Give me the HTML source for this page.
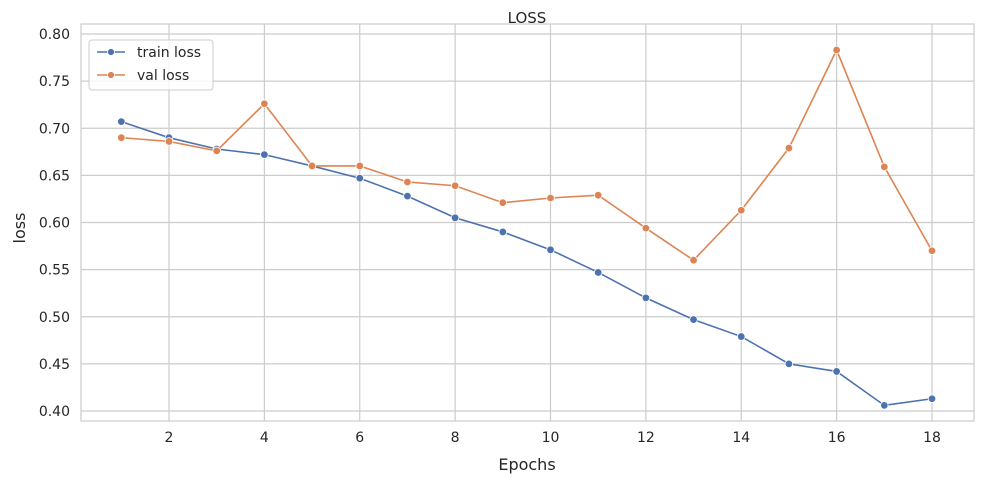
<!DOCTYPE html>
<html><head><meta charset="utf-8"><style>
body{margin:0;background:#fff;font-family:"Liberation Sans","DejaVu Sans",sans-serif;}
svg text{font-family:"DejaVu Sans","Liberation Sans",sans-serif;fill:#262626;}
</style></head><body>
<svg id="chart" width="984" height="484" xmlns="http://www.w3.org/2000/svg">
<rect x="81" y="24" width="893" height="397" fill="#fff" stroke="#ccc" stroke-width="1.2"/>
<g id="grid"></g>
<g id="lines"></g>
<text x="527" y="23" text-anchor="middle" font-size="15">LOSS</text>
<text x="527" y="470" text-anchor="middle" font-size="16">Epochs</text>
<text x="25" y="228" text-anchor="middle" font-size="16" transform="rotate(-90 25 228)">loss</text>
<g>
<rect x="89" y="40" width="124" height="50" rx="3" fill="#fff" fill-opacity="0.8" stroke="#ccc"/>
<g><line x1="97" y1="52" x2="125" y2="52" stroke="#4c72b0" stroke-width="1.6"/><circle cx="111" cy="52" r="3.5" fill="#4c72b0" stroke="#fff" stroke-width="0.8"/><text x="137" y="57" font-size="14">train loss</text></g>
<g><line x1="97" y1="75" x2="125" y2="75" stroke="#dd8452" stroke-width="1.6"/><circle cx="111" cy="75" r="3.5" fill="#dd8452" stroke="#fff" stroke-width="0.8"/><text x="137" y="80" font-size="14">val loss</text></g>
</g>
</svg>
<script>
const epochs=[1,2,3,4,5,6,7,8,9,10,11,12,13,14,15,16,17,18];
const trainLoss=[0.707,0.690,0.678,0.672,0.660,0.647,0.628,0.605,0.590,0.571,0.547,0.520,0.497,0.479,0.450,0.442,0.406,0.413];
const valLoss=[0.690,0.686,0.676,0.726,0.660,0.660,0.643,0.639,0.621,0.626,0.629,0.594,0.560,0.613,0.679,0.783,0.659,0.570];
const xTicks=[2,4,6,8,10,12,14,16,18];
const yTicks=[0.40,0.45,0.50,0.55,0.60,0.65,0.70,0.75,0.80];
const NS="http://www.w3.org/2000/svg";
function xs(v){return 169+(v-2)*(932-169)/16;}
function ys(v){return 411-(v-0.40)*(411-34)/0.40;}
const grid=document.getElementById('grid'),lines=document.getElementById('lines');
function mk(t,a,p){const e=document.createElementNS(NS,t);for(const k in a)e.setAttribute(k,a[k]);p.appendChild(e);return e;}
xTicks.forEach(t=>{
 const l=mk('line',{x1:xs(t),x2:xs(t),y1:24,y2:421,stroke:'#ccc','stroke-width':1.2},grid);
 
 
 const tx=mk('text',{x:xs(t),y:442,'text-anchor':'middle','font-size':14},grid);tx.textContent=t;
 
 
});
yTicks.forEach(t=>{
 const l=mk('line',{x1:81,x2:974,y1:ys(t),y2:ys(t),stroke:'#ccc','stroke-width':1.2},grid);
 
 
 const tx=mk('text',{x:70,y:ys(t)+5,'text-anchor':'end','font-size':14},grid);tx.textContent=t.toFixed(2);
 
 
});
function series(vals,color,name){
 const pl=mk('polyline',{points:vals.map((v,i)=>xs(epochs[i])+','+ys(v)).join(' '),fill:'none',stroke:color,'stroke-width':1.6},lines);
 
 
 vals.forEach((v,i)=>{
  const c=mk('circle',{cx:xs(epochs[i]),cy:ys(v),r:3.8,fill:color,stroke:'#fff','stroke-width':0.8},lines);
  
  
 });
}
series(trainLoss,'#4c72b0','train-loss');
series(valLoss,'#dd8452','val-loss');
</script>
</body></html>
